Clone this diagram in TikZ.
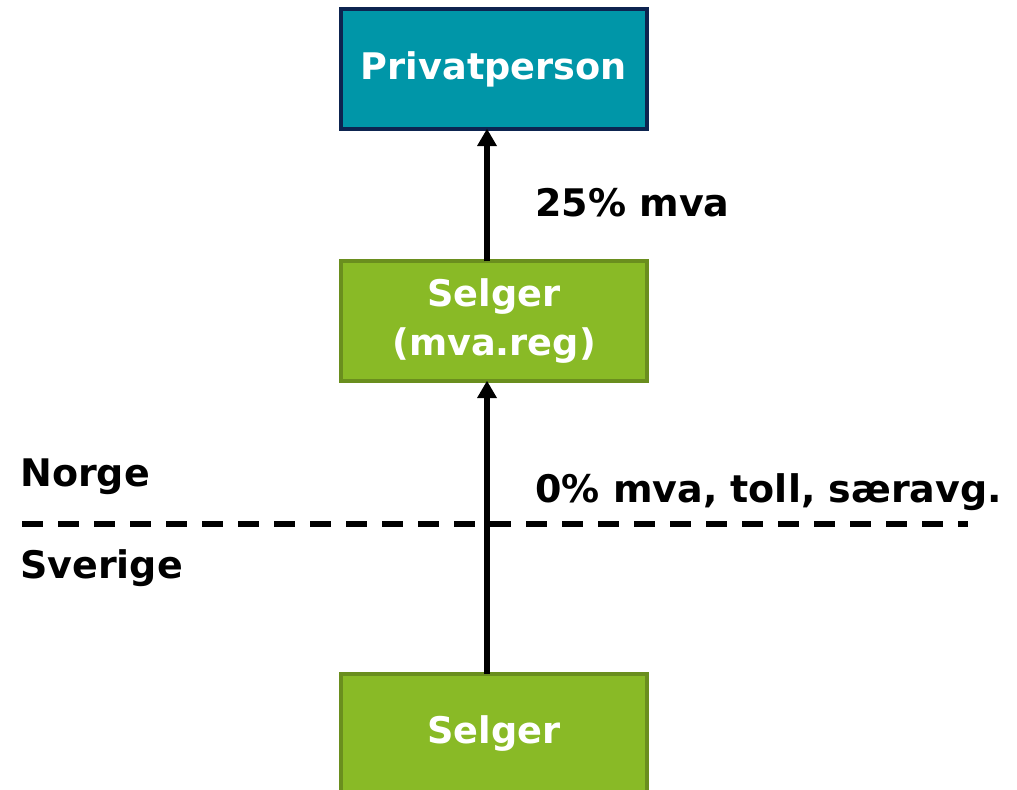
\documentclass[tikz,border=0pt]{standalone}
\usepackage{fontspec}
\setmainfont{DejaVu Sans}
\usepackage{tikz}
\usetikzlibrary{positioning}
\usetikzlibrary{arrows.meta}

\definecolor{tealfill}{HTML}{0096A8}
\definecolor{navyline}{HTML}{0D2450}
\definecolor{greenfill}{HTML}{89BA26}
\definecolor{greenline}{HTML}{6A8E1E}

\begin{document}
\begin{tikzpicture}[x=0.75pt, y=-0.75pt,
	box/.style={rectangle, minimum width=229pt, minimum height=89.5pt, line width=2.8pt, outer sep=0pt, text=white, font=\fontsize{27.5}{37}\selectfont\bfseries, align=center, inner sep=0pt},
	person/.style={box, fill=tealfill, draw=navyline},
	seller/.style={box, fill=greenfill, draw=greenline},
	lbl/.style={anchor=west, inner sep=0pt, font=\fontsize{28.5}{33}\selectfont\bfseries},
	flow/.style={line width=3.9pt, -{Triangle[length=13pt, width=14pt]}}]
	\useasboundingbox (0,0) rectangle (1017,789);
	\node [person] (priv) at (494,69) {Privatperson};
	\node [seller, below=99.5pt of priv] (mvareg) {Selger\\(mva.reg)};
	\node [seller, below=220pt of mvareg] (selger) {Selger};
	\draw [flow] (mvareg.north -| 487,0) -- (priv.south -| 487,0);
	\draw [flow] (selger.north -| 487,0) -- (mvareg.south -| 487,0);
	% grense
	\coordinate (grA) at (22,524);
	\coordinate (grB) at (968,524);
	\draw [line width=3.8pt, dash pattern=on 15.75pt off 11.25pt] (grA) -- (grB);
	\node [lbl] (norge) at (20,477) {Norge};
	\node [lbl] (sverige) at (20,568) {Sverige};
	\node [lbl] (mva25) at (535,203) {25\% mva};
	\node [lbl] (mva0) at (535,492) {0\% mva, toll, særavg.};
\end{tikzpicture}
\end{document}
